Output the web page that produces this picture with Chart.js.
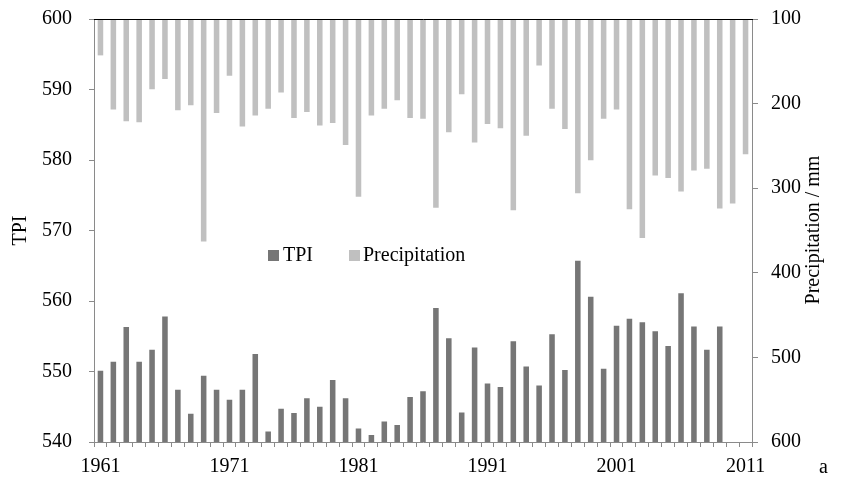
<!DOCTYPE html>
<html><head><meta charset="utf-8">
<script src="https://cdn.jsdelivr.net/npm/chart.js@4"></script>
<style>
html,body{margin:0;padding:0;background:#fff;}
#wrap{position:relative;width:850px;height:478px;overflow:hidden;}
canvas{position:absolute;left:0;top:0;}
.t{position:absolute;font-family:'Liberation Serif','Times New Roman',serif;font-size:20px;line-height:20px;color:#000;white-space:nowrap;}
.sq{position:absolute;width:11px;height:11px;}
#rt{left:812px;top:230px;transform:translate(-50%,-50%) rotate(-90deg);}
</style></head><body>
<div id="wrap">
<canvas id="c" width="850" height="478"></canvas>
<span class="sq" style="left:268px;top:250px;background:#767676"></span>
<span class="t" style="left:283px;top:244px">TPI</span>
<span class="sq" style="left:349px;top:250px;background:#c0c0c0"></span>
<span class="t" style="left:363px;top:244px">Precipitation</span>
<span class="t" id="rt">Precipitation / mm</span>
<span class="t" style="left:819px;top:456px">a</span>
</div>
<script>
const years = ['1961','1962','1963','1964','1965','1966','1967','1968','1969','1970',
  '1971','1972','1973','1974','1975','1976','1977','1978','1979','1980',
  '1981','1982','1983','1984','1985','1986','1987','1988','1989','1990',
  '1991','1992','1993','1994','1995','1996','1997','1998','1999','2000',
  '2001','2002','2003','2004','2005','2006','2007','2008','2009','2010','2011'];
const tpi = [550.1,551.4,556.3,551.4,553.1,557.8,547.4,544.0,549.4,547.4,
  546.0,547.4,552.5,541.5,544.7,544.1,546.2,545.0,548.8,546.2,
  541.9,541.0,542.9,542.4,546.4,547.2,559.0,554.7,544.2,553.4,
  548.3,547.8,554.3,550.7,548.0,555.3,550.2,565.7,560.6,550.4,
  556.5,557.5,557.0,555.7,553.6,561.1,556.4,553.1,556.4,null,null];
const precipitation = [143,207,221,222,183,171,208,202,363,211,
  167,227,214,206,187,217,210,226,223,249,
  310,214,206,196,217,218,323,234,189,246,
  224,229,326,238,155,206,230,306,267,218,
  207,325,359,285,288,304,279,277,324,318,260];
const tpiRange = [540, 600];
const precipRange = [100, 600];

const AXIS = '#8a8a8a';
Chart.defaults.font.family = "'Liberation Serif','Times New Roman',serif";
Chart.defaults.font.size = 20;
Chart.defaults.color = '#000';

function noPad(s){ s.paddingTop = 0; s.paddingBottom = 0; s.paddingLeft = 0; s.paddingRight = 0; }

new Chart(document.getElementById('c'), {
  type: 'bar',
  data: {
    labels: years,
    datasets: [
      {label:'Precipitation', data: precipitation, yAxisID:'y2', xAxisID:'x', backgroundColor:'#c0c0c0',
       grouped:false, barPercentage:0.43, categoryPercentage:1, order:2},
      {label:'TPI', data: tpi, yAxisID:'y', xAxisID:'x', backgroundColor:'#767676',
       grouped:false, barPercentage:0.43, categoryPercentage:1, order:1}
    ]
  },
  options: {
    responsive:false, animation:false, devicePixelRatio:1,
    layout:{padding:{top:19,left:0,right:0,bottom:0}},
    plugins:{legend:{display:false}, tooltip:{enabled:false}},
    scales:{
      x:{position:'bottom', offset:true,
         grid:{display:true, drawOnChartArea:false, offset:true, color:AXIS, tickLength:5},
         border:{color:AXIS},
         ticks:{autoSkip:false, maxRotation:0, padding:8,
           callback(v,i){ return i % 10 === 0 ? this.getLabelForValue(v) : ''; }},
         afterFit(s){ s.height = 36; noPad(s); }},
      x2:{type:'category', position:'top', offset:true, z:1,
          grid:{display:false, drawTicks:false}, ticks:{display:false},
          border:{color:'#000', width:1, z:1},
          afterFit(s){ s.height = 0; noPad(s); }},
      y:{position:'left', min:tpiRange[0], max:tpiRange[1],
         ticks:{stepSize:10, padding:17},
         grid:{drawOnChartArea:false, color:AXIS, tickLength:5},
         border:{color:AXIS},
         title:{display:true, text:'TPI', padding:{top:9,bottom:0}},
         afterFit(s){ s.width = 94; noPad(s); }},
      y2:{position:'right', reverse:true, min:precipRange[0], max:precipRange[1],
          ticks:{stepSize:100, padding:13},
          grid:{drawOnChartArea:false, color:AXIS, tickLength:6},
          border:{color:AXIS},
          afterFit(s){ s.width = 98; noPad(s); }}
    }
  }
});
</script>
</body></html>
